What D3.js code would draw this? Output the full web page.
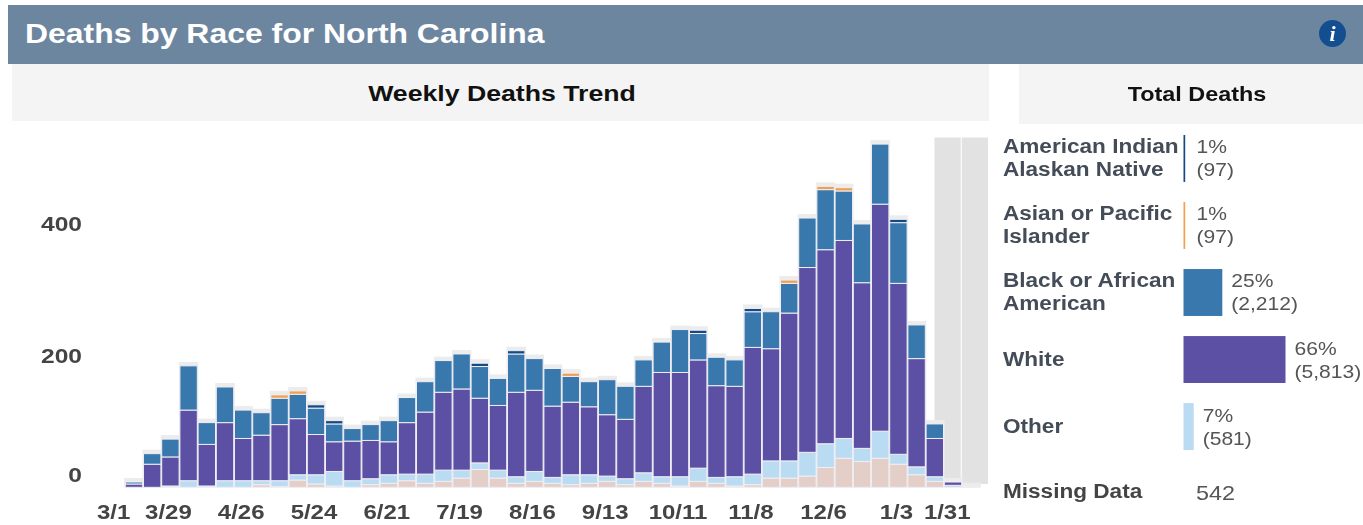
<!DOCTYPE html>
<html>
<head>
<meta charset="utf-8">
<script src="https://cdnjs.cloudflare.com/ajax/libs/d3/7.8.5/d3.min.js"></script>
<style>
html, body { margin: 0; padding: 0; background: #fff; overflow: hidden; }
#chart { width: 1363px; height: 525px; }
svg { display: block; font-family: "Liberation Sans", Arial, sans-serif; filter: blur(0.5px); }
.wide { transform-box: fill-box; transform: scaleX(1.17); }
.wideStart { transform-origin: left center; }
.wideMiddle { transform-origin: center center; }
.wideEnd { transform-origin: right center; }
</style>
</head>
<body>
<div id="chart"></div>
<script>
/* DATA */
var weeks = ["3/1","3/8","3/15","3/22","3/29","4/5","4/12","4/19","4/26","5/3","5/10","5/17","5/24","5/31","6/7","6/14","6/21","6/28","7/5","7/12","7/19","7/26","8/2","8/9","8/16","8/23","8/30","9/6","9/13","9/20","9/27","10/4","10/11","10/18","10/25","11/1","11/8","11/15","11/22","11/29","12/6","12/13","12/20","12/27","1/3","1/10","1/17","1/24","1/31"];
var weekLabels = ["3/1","3/29","4/26","5/24","6/21","7/19","8/16","9/13","10/11","11/8","12/6","1/3","1/31"];
var yLabels = [0, 200, 400];
var incompleteWeeks = ["1/24","1/31"];

var missingWeekly = [0,0,0,0,0,0,0,0,0,4,1,11,5,2,0,4,6,10,6,9,14,27,14,6,9,6,4,6,9,4,9,6,2,9,6,2,4,14,14,17,30,44,39,44,35,19,9,0,1];
var otherWeekly = [0,0,0,0,2,10,2,10,10,6,9,8,14,22,10,9,13,10,14,17,12,10,12,10,15,9,15,13,8,9,13,10,14,20,9,14,16,26,26,36,36,30,20,41,15,12,7,3,0];
var whiteWeekly = [0,0,5,35,44,107,63,88,64,69,85,85,61,45,60,58,50,78,94,118,123,98,98,128,123,108,110,103,93,90,131,158,158,164,139,137,192,170,224,280,294,300,251,344,259,164,58,5,0];
var blackWeekly = [0,0,3,16,27,67,33,54,43,34,40,37,40,27,19,24,32,38,46,48,53,48,41,58,48,57,39,38,53,50,40,46,65,40,43,40,54,56,45,75,91,75,89,91,92,51,22,0,0];
var asianWeekly = [0,0,0,0,0,0,0,0,0,0,5,5,0,0,0,0,0,0,0,0,0,0,0,0,0,0,5,0,0,0,0,0,0,0,0,0,0,0,5,0,5,5,0,0,0,0,0,0,0];
var nativeWeekly = [0,0,0,0,0,0,0,0,0,0,0,0,5,5,0,0,0,0,0,0,0,5,0,5,0,0,0,0,0,0,0,0,0,5,0,0,5,0,0,0,0,0,0,0,5,0,0,0,0];

var raceNames = [["American Indian","Alaskan Native"],["Asian or Pacific","Islander"],["Black or African","American"],["White"],["Other"]];
var raceColors = ["#134a85","#f0a04e","#3878ad","#5c50a4","#b9dcf3"];
var racePercents = ["1%","1%","25%","66%","7%"];
var raceTotals = [97,97,2212,5813,581];
var missingTotal = 542;

var seriesKeys = ["missing","other","white","black","asian","native"];
var seriesColors = ["#e3cec8","#b9dcf3","#5c50a4","#3878ad","#f0a04e","#134a85"];

/* ROWS FOR D3.STACK */
var rows = weeks.map(function(w, i) {
    return {
        week: w,
        missing: missingWeekly[i],
        other: otherWeekly[i],
        white: whiteWeekly[i],
        black: blackWeekly[i],
        asian: asianWeekly[i],
        native: nativeWeekly[i]
    };
});

/* SVG CANVAS */
var width = 1363;
var height = 525;
var svg = d3.select("#chart")
    .append("svg")
    .attr("width", width)
    .attr("height", height);

/* HEADER AND PANEL TITLES */
svg.append("rect").attr("x", 8).attr("y", 5).attr("width", width - 8).attr("height", 59).attr("fill", "#6d86a0");
svg.append("rect").attr("x", 12).attr("y", 64).attr("width", 977).attr("height", 57).attr("fill", "#f4f4f4");
svg.append("rect").attr("x", 1019).attr("y", 64).attr("width", 344).attr("height", 60).attr("fill", "#f4f4f4");

svg.append("text")
    .attr("class", "wide wideStart")
    .attr("x", 25).attr("y", 43)
    .attr("font-size", 28).attr("font-weight", "bold").attr("fill", "#fff")
    .style("transform", "scaleX(1.14)")
    .text("Deaths by Race for North Carolina");

svg.append("text")
    .attr("class", "wide wideMiddle")
    .attr("x", 502).attr("y", 101)
    .attr("text-anchor", "middle")
    .attr("font-size", 22.8).attr("font-weight", "bold").attr("fill", "#111")
    .text("Weekly Deaths Trend");

svg.append("text")
    .attr("class", "wide wideMiddle")
    .attr("x", 1197).attr("y", 101)
    .attr("text-anchor", "middle")
    .attr("font-size", 20).attr("font-weight", "bold").attr("fill", "#111")
    .text("Total Deaths");

/* INFO ICON */
svg.append("circle").attr("cx", 1332.5).attr("cy", 33.5).attr("r", 13.5).attr("fill", "#134f90");
svg.append("text")
    .attr("x", 1332.5).attr("y", 41)
    .attr("text-anchor", "middle")
    .attr("font-family", "'Liberation Serif', serif")
    .attr("font-size", 22).attr("font-weight", "bold").attr("font-style", "italic").attr("fill", "#fff")
    .text("i");

/* SCALES */
var xScale = d3.scaleBand()
    .domain(weeks)
    .range([88.5, 980.3]);

var yScale = d3.scaleLinear()
    .domain([0, 530])
    .range([487.3, 137.5]);

var shadeScale = d3.scaleBand()
    .domain(incompleteWeeks)
    .range([934.5, 988])
    .paddingInner(0.04);

/* SHADED WEEKS WITH INCOMPLETE DATA */
svg.selectAll(".shade")
    .data(incompleteWeeks)
    .enter()
    .append("rect")
        .attr("class", "shade")
        .attr("x", function(d) { return shadeScale(d); })
        .attr("y", yScale(530))
        .attr("width", shadeScale.bandwidth())
        .attr("height", yScale(5) - yScale(530))
        .attr("fill", "#e2e2e2");

/* GREY HALO BEHIND EVERY BAR */
var stacked = d3.stack().keys(seriesKeys)(rows);
var totals = rows.map(function(d) {
    return d3.sum(seriesKeys, function(k) { return d[k]; });
});

svg.selectAll(".halo")
    .data(rows.filter(function(d, i) { return totals[i] > 0; }))
    .enter()
    .append("rect")
        .attr("class", "halo")
        .attr("x", function(d) { return xScale(d.week) - 0.6; })
        .attr("y", function(d) { return yScale(totals[weeks.indexOf(d.week)]) - 4; })
        .attr("width", xScale.bandwidth() + 1.2)
        .attr("height", function(d) { return yScale(0) - yScale(totals[weeks.indexOf(d.week)]) + 4; })
        .attr("fill", "#ececec");

/* STACKED BARS */
var layers = svg.selectAll(".layer")
    .data(stacked)
    .enter()
    .append("g")
        .attr("class", "layer")
        .attr("fill", function(d, i) { return seriesColors[i]; });

layers.selectAll("rect")
    .data(function(d) { return d.filter(function(p) { return p[1] > p[0]; }); })
    .enter()
    .append("rect")
        .attr("x", function(d) { return xScale(d.data.week) + 0.4; })
        .attr("y", function(d) { return yScale(d[1]); })
        .attr("width", xScale.bandwidth() - 0.8)
        .attr("height", function(d) { return yScale(d[0]) - yScale(d[1]); })
        .attr("stroke", "#f0eef4")
        .attr("stroke-width", 1);

/* AXES */
var yAxis = svg.append("g")
    .attr("transform", "translate(82,0)")
    .call(d3.axisLeft(yScale).tickValues(yLabels).tickSize(0).tickPadding(0));
yAxis.select(".domain").remove();
yAxis.selectAll("text")
    .attr("class", "wide wideEnd")
    .attr("font-family", "'Liberation Sans', Arial, sans-serif")
    .attr("font-size", 21).attr("font-weight", "bold").attr("fill", "#444")
    .attr("y", function(d) { return d === 0 ? -13 : 0; });

var xAxis = svg.append("g")
    .attr("transform", "translate(0,487)")
    .call(d3.axisBottom(xScale).tickValues(weekLabels).tickSize(0).tickPadding(17));
xAxis.select(".domain").remove();
xAxis.selectAll("text")
    .attr("class", "wide wideMiddle")
    .attr("font-family", "'Liberation Sans', Arial, sans-serif")
    .attr("font-size", 20.5).attr("font-weight", "bold").attr("fill", "#444")
    .attr("x", function(d) {
        // the two end labels are pulled in toward the bars
        if (d === "3/1") { return 16; }
        if (d === "1/31") { return -24; }
        return -2;
    });

/* TOTAL DEATHS PANEL */
var rowScale = d3.scaleBand()
    .domain(d3.range(raceNames.length))
    .range([135, 450])
    .paddingInner(0.3);

var totalScale = d3.scaleLinear()
    .domain([0, 5813])
    .range([0, 102]);

var raceRows = svg.selectAll(".raceRow")
    .data(raceNames)
    .enter()
    .append("g")
        .attr("class", "raceRow")
        .attr("transform", function(d, i) { return "translate(0," + rowScale(i) + ")"; });

raceRows.append("rect")
    .attr("x", 1183.5)
    .attr("y", 0)
    .attr("width", function(d, i) { return totalScale(raceTotals[i]); })
    .attr("height", rowScale.bandwidth())
    .attr("fill", function(d, i) { return raceColors[i]; });

raceRows.each(function(lines, i) {
    var row = d3.select(this);
    var mid = rowScale.bandwidth() / 2;
    lines.forEach(function(line, j) {
        row.append("text")
            .attr("class", "wide wideStart")
            .attr("x", 1003)
            .attr("y", mid + 6.5 + (j - (lines.length - 1) / 2) * 23)
            .attr("font-size", 19.3).attr("font-weight", "bold").attr("fill", "#444c58")
            .text(line);
    });
    var labelX = 1183.5 + Math.max(totalScale(raceTotals[i]), 4) + 9;
    row.append("text")
        .attr("class", "wide wideStart")
        .attr("x", labelX)
        .attr("y", mid - 5)
        .attr("font-size", 18).attr("fill", "#555")
        .text(racePercents[i]);
    row.append("text")
        .attr("class", "wide wideStart")
        .attr("x", labelX)
        .attr("y", mid + 18)
        .attr("font-size", 18).attr("fill", "#555")
        .text("(" + d3.format(",")(raceTotals[i]) + ")");
});

svg.append("text")
    .attr("class", "wide wideStart")
    .attr("x", 1003).attr("y", 498)
    .attr("font-size", 19.3).attr("font-weight", "bold").attr("fill", "#444")
    .text("Missing Data");

svg.append("text")
    .attr("class", "wide wideStart")
    .attr("x", 1196).attr("y", 500)
    .attr("font-size", 20).attr("fill", "#555")
    .text(missingTotal);
</script>
</body>
</html>
